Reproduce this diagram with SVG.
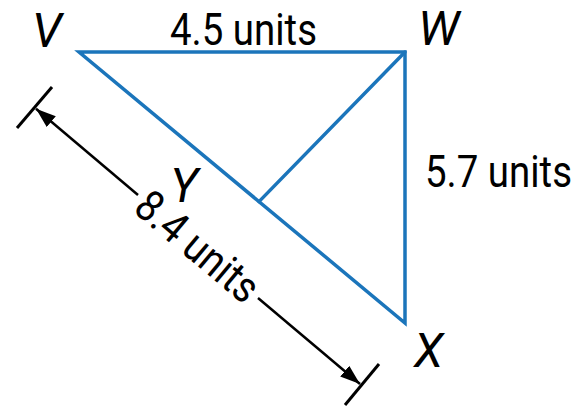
<svg xmlns="http://www.w3.org/2000/svg" width="588" height="407" viewBox="0 0 588 407">
<style>
.edge{fill:none;stroke:#1b75bb;stroke-width:3.5;stroke-linejoin:miter;stroke-linecap:round}
.dim{fill:none;stroke:#000;stroke-width:2.5}
.tick{fill:none;stroke:#000;stroke-width:3}
.lbl{font-family:Roboto,"Liberation Sans",sans-serif;font-size:48px;font-style:italic;fill:#000}
.num{font-family:Roboto,"Liberation Sans",sans-serif;font-size:44px;fill:#000}
</style>
<defs>
<marker id="arr" viewBox="0 0 20 14" refX="20" refY="7" markerWidth="20" markerHeight="14" markerUnits="userSpaceOnUse" orient="auto">
<path d="M0,0 L20,7 L0,14 Z" fill="#000"/>
</marker>
</defs>
<g id="connectors">
<polygon id="triangle" class="edge" points="79,52 405,52 405,323"/>
<line id="WY" class="edge" x1="405" y1="52" x2="259" y2="201.6"/>
<line class="dim" x1="138" y1="195" x2="36" y2="108.8" marker-end="url(#arr)"/>
<line class="dim" x1="258" y1="298" x2="360" y2="384" marker-end="url(#arr)"/>
<line class="tick" x1="17" y1="128" x2="52" y2="87"/>
<line class="tick" x1="379" y1="364" x2="345" y2="405"/>
</g>
<g id="V"><text class="lbl" x="32" y="47">V</text></g>
<g id="W"><text class="lbl" x="418" y="45">W</text></g>
<g id="X"><text class="lbl" x="414" y="367">X</text></g>
<g id="Y"><text class="lbl" x="170" y="202">Y</text></g>
<g id="labels">
<g transform="translate(170 45) scale(0.875 1)"><text class="num" x="0" y="0" textLength="168" lengthAdjust="spacingAndGlyphs">4.5 units</text></g>
<g transform="translate(425 187) scale(0.875 1)"><text class="num" x="0" y="0" textLength="168" lengthAdjust="spacingAndGlyphs">5.7 units</text></g>
<g transform="translate(188 258) rotate(40) scale(0.875 1)"><text class="num" x="0" y="0" text-anchor="middle" textLength="168" lengthAdjust="spacingAndGlyphs">8.4 units</text></g>
</g>
</svg>
